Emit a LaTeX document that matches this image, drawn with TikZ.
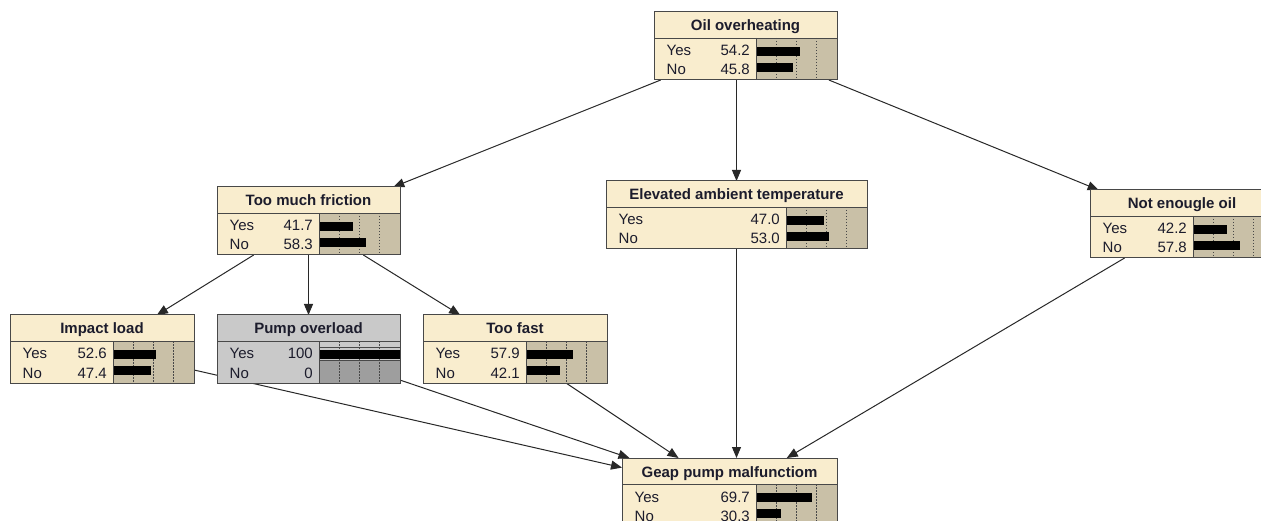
\documentclass[tikz,border=0pt]{standalone}
\usepackage{fontspec}
\setmainfont{Liberation Sans}
\usetikzlibrary{arrows.meta,backgrounds}

\definecolor{cream}{RGB}{249,237,206}
\definecolor{barbg}{RGB}{201,192,167}
\definecolor{greybox}{RGB}{201,201,201}
\definecolor{greybar}{RGB}{158,158,158}
\definecolor{framegrey}{RGB}{72,72,72}
\definecolor{edgeink}{RGB}{40,40,40}
\definecolor{textink}{RGB}{28,28,44}

% geometry of one belief box (in px-sized points)
\newcommand\barw{81}
\newcommand\titleh{26}
\newcommand\boxh{68}

\tikzset{
  netbox/.style={rectangle, inner sep=0pt, outer sep=0pt},
  netborder/.style={draw=framegrey, line width=1pt},
  rule/.style={draw=framegrey, line width=0.9pt},
  gridline/.style={draw=framegrey, line width=0.8pt, dash pattern=on 1.5pt off 1.5pt},
  barink/.style={fill=black},
  titletext/.style={inner sep=0pt, anchor=base, font=\fontsize{15}{18}\selectfont\bfseries, text=textink},
  valtext/.style={inner sep=0pt, font=\fontsize{15}{18}\selectfont, text=textink},
  plainnode/.style={boxfill/.style={fill=cream}, barfill/.style={fill=barbg}},
  greynode/.style={boxfill/.style={fill=greybox}, barfill/.style={fill=greybar}},
  link/.style={draw=edgeink, line width=1pt, -{Triangle[length=11pt,width=9pt]}},
}

% #1 name, #2 left, #3 top, #4 label column width, #5 title,
% #6 Yes value, #7 No value, #8 colour style, #9 extra drawing in the bar column
\newcommand\bnet[9]{%
  \begin{scope}[shift={(#2,#3)}, #8]
    \pgfmathsetmacro\bw{#4+\barw}
    \node[netbox, boxfill, minimum width=\bw pt, minimum height=\boxh pt, anchor=north west] (#1) at (0,0) {};
    \fill[barfill] (#4,\titleh) rectangle (\bw,\boxh);
    #9
    \foreach \q in {0.25,0.5,0.75}
      \draw[gridline] ({#4+\q*\barw},\titleh) -- ({#4+\q*\barw},\boxh);
    \fill[barink] (#4,\titleh+9) rectangle ({#4+#6/100*\barw},\titleh+18);
    \fill[barink] (#4,\titleh+25) rectangle ({#4+#7/100*\barw},\titleh+34);
    \draw[rule] (0,\titleh) -- (\bw,\titleh);
    \draw[rule] (#4,\titleh) -- (#4,\boxh);
    \node[titletext] at ({\bw/2},19) {#5};
    \node[valtext, anchor=base west] at (12.5,\titleh+18) {Yes};
    \node[valtext, anchor=base east] at (#4-6,\titleh+18) {#6};
    \node[valtext, anchor=base west] at (12.5,\titleh+37) {No};
    \node[valtext, anchor=base east] at (#4-6,\titleh+37) {#7};
    \draw[netborder] (0,0) rectangle (\bw,\boxh);
  \end{scope}}

\begin{document}
\begin{tikzpicture}[x=1pt,y=-1pt]
\useasboundingbox (0,0) rectangle (1261,521);
\clip (0,0) rectangle (1261,521);

\bnet{oil}{654}{12}{102}{Oil overheating}{54.2}{45.8}{plainnode}{}
\bnet{tmf}{217}{187}{102}{Too much friction}{41.7}{58.3}{plainnode}{}
\bnet{elev}{606}{181}{180}{Elevated ambient temperature}{47.0}{53.0}{plainnode}{}
\bnet{neo}{1090}{190}{103}{Not enougle oil}{42.2}{57.8}{plainnode}{}
\bnet{imp}{10}{315}{103}{Impact load}{52.6}{47.4}{plainnode}{}
\bnet{pump}{217}{315}{102}{Pump overload}{100}{0}{greynode}{%
  \fill[greybox] (102,\titleh) rectangle (\bw,\titleh+19);
  \draw[rule] (102,\titleh+6) -- (\bw,\titleh+6);
  \draw[rule] (102,\titleh+19) -- (\bw,\titleh+19);}
\bnet{fast}{423}{315}{103}{Too fast}{57.9}{42.1}{plainnode}{}
\bnet{geap}{622}{458}{134}{Geap pump malfunctiom}{69.7}{30.3}{plainnode}{}

\begin{scope}[on background layer]
  \fill[white] (0,0) rectangle (1261,521);
  \draw[link] (oil) -- (tmf);
  \draw[link] (elev.north |- oil.south) -- (elev.north);
  \draw[link] (oil) -- (neo);
  \draw[link] (tmf) -- (imp);
  \draw[link] (tmf) -- (pump);
  \draw[link] (tmf) -- (fast);
  \draw[link] (imp) -- (geap);
  \draw[link] (pump) -- (geap);
  \draw[link] (fast) -- (geap);
  \draw[link] (elev.south) -- (elev.south |- geap.north);
  \draw[link] (neo) -- (geap);
\end{scope}
\end{tikzpicture}
\end{document}
